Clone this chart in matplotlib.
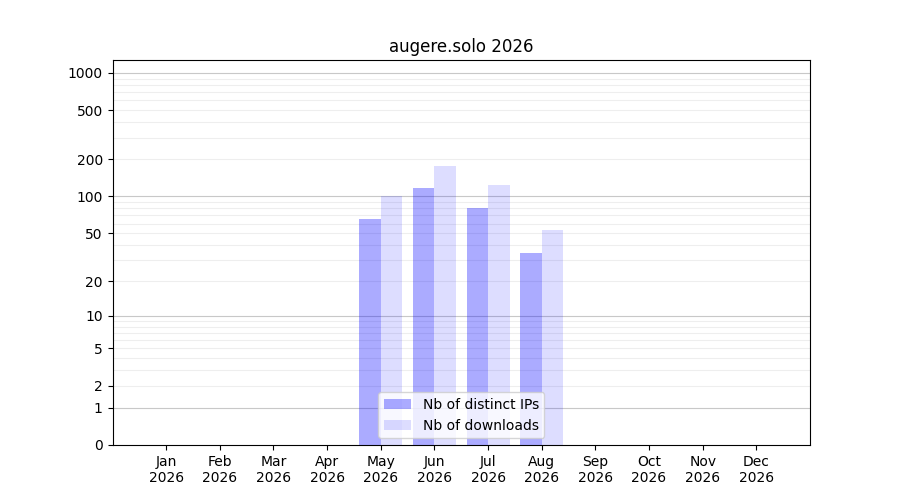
import numpy as np
import matplotlib
matplotlib.use("Agg")
import matplotlib.pyplot as plt

# Datos
meses = ["Jan", "Feb", "Mar", "Apr", "May", "Jun", "Jul", "Aug", "Sep", "Oct", "Nov", "Dec"]
anio = "2026"
ips = [0, 0, 0, 0, 65, 118, 80, 34, 0, 0, 0, 0]
descargas = [0, 0, 0, 0, 100, 176, 124, 53, 0, 0, 0, 0]
ticks_y = [0, 1, 2, 5, 10, 20, 50, 100, 200, 500, 1000]

fig, ax = plt.subplots(figsize=(9, 5), dpi=100)

# escala log(1 + x)
ax.set_yscale("function", functions=(lambda v: np.log10(1 + np.clip(v, 0, None)),
                                     lambda v: 10 ** v - 1))

x = np.arange(len(meses))
ax.bar(x - 0.2, ips, width=0.4, color="blue", alpha=0.33, label="Nb of distinct IPs", zorder=3)
ax.bar(x + 0.2, descargas, width=0.4, color="blue", alpha=0.135, label="Nb of downloads", zorder=3)

# lineas de la grilla
menores = [m * 10 ** k for k in range(0, 3) for m in range(2, 10)]
for v in menores:
    ax.axhline(v, color="#eeeeee", linewidth=0.8, zorder=1)
for v in [1, 10, 100, 1000]:
    ax.axhline(v, color="#c8c8c8", linewidth=0.8, zorder=2)

ax.set_yticks(ticks_y)
ax.set_yticklabels([str(t) for t in ticks_y])
ax.yaxis.set_minor_locator(matplotlib.ticker.NullLocator())
ax.set_ylim(0, 1270)

ax.set_xticks(x)
ax.set_xticklabels([f"{m}\n{anio}" for m in meses])
ax.set_xlim(-1, 12)

ax.set_title("augere.solo 2026")
ax.legend(loc="lower center")

plt.savefig("out.png")
